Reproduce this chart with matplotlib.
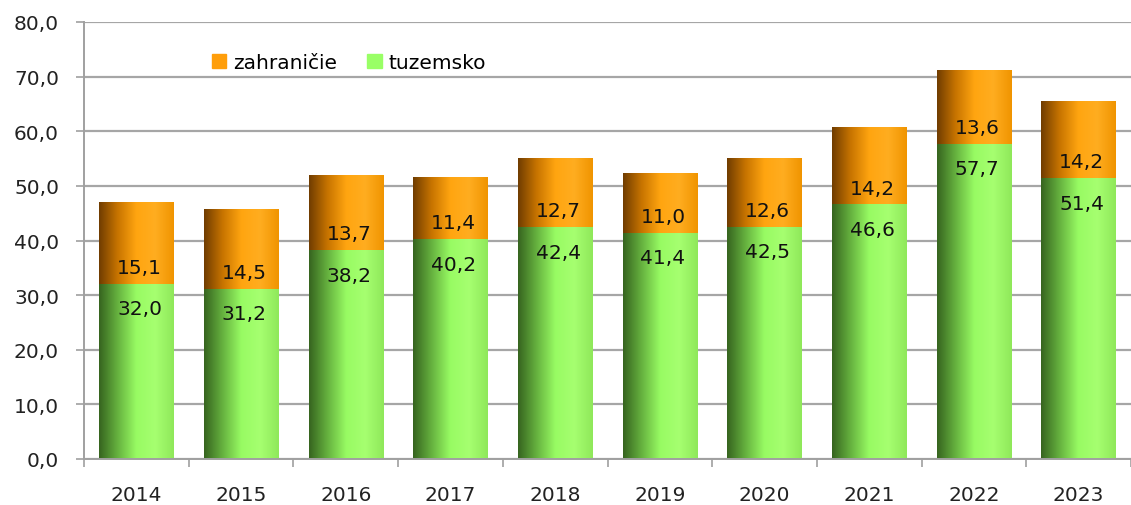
import numpy as np
import matplotlib
matplotlib.use('Agg')
import matplotlib.pyplot as plt
from matplotlib.colors import LinearSegmentedColormap
from matplotlib.patches import Patch

# data
years = ['2014', '2015', '2016', '2017', '2018', '2019', '2020', '2021', '2022', '2023']
tuzemsko = [32.0, 31.2, 38.2, 40.2, 42.4, 41.4, 42.5, 46.6, 57.7, 51.4]
zahranicie = [15.1, 14.5, 13.7, 11.4, 12.7, 11.0, 12.6, 14.2, 13.6, 14.2]

plt.rcParams['font.family'] = ['DejaVu Sans']
FS = 14.5

green_cm = LinearSegmentedColormap.from_list('g', ['#36641f', '#66b23f', '#98fb63', '#a6ff70', '#8fe85a'])
orange_cm = LinearSegmentedColormap.from_list('o', ['#703c00', '#c87400', '#ffa510', '#ffad20', '#f09400'])

def fmt(v):
    return ('%.1f' % v).replace('.', ',')

def shade(ax, bars, cmap):
    grad = np.linspace(0, 1, 256).reshape(1, -1)
    for b in bars:
        x0, y0 = b.get_x(), b.get_y()
        w, h = b.get_width(), b.get_height()
        im = ax.imshow(grad, cmap=cmap, aspect='auto', extent=(x0, x0 + w, y0, y0 + h),
                       interpolation='bilinear', zorder=2)
        im.set_clip_path(b)

fig = plt.figure(figsize=(11.31, 5.06), dpi=100)
ax = fig.add_axes([84 / 1131, 46 / 506, 1 - 84 / 1131, 437 / 506])

x = np.arange(len(years))
w = 0.71
b1 = ax.bar(x, tuzemsko, w, color='none', edgecolor='none', zorder=2)
b2 = ax.bar(x, zahranicie, w, bottom=tuzemsko, color='none', edgecolor='none', zorder=2)
shade(ax, b1, green_cm)
shade(ax, b2, orange_cm)

for i in range(len(years)):
    ax.annotate(fmt(tuzemsko[i]), (x[i] + 0.03, tuzemsko[i]), xytext=(0, -11), textcoords='offset points',
                ha='center', va='top', fontsize=FS, color='#111111', zorder=4)
    ax.annotate(fmt(zahranicie[i]), (x[i] + 0.03, tuzemsko[i]), xytext=(0, 5), textcoords='offset points',
                ha='center', va='bottom', fontsize=FS, color='#111111', zorder=4)

ax.set_xlim(-0.5, 9.4)
ax.set_ylim(0, 80)
ax.set_yticks(np.arange(0, 81, 10))
ax.set_yticklabels([fmt(v) for v in np.arange(0, 81, 10)], fontsize=FS, color='#222222')
ax.set_xticks(x)
ax.set_xticklabels(years, fontsize=FS, color='#222222')
ax.set_xticks(np.arange(-0.5, 10, 1), minor=True)
ax.tick_params(axis='x', which='major', length=0, pad=19)
ax.tick_params(axis='x', which='minor', length=6, color='#a0a0a0', width=1.2)
ax.tick_params(axis='y', length=6, color='#a0a0a0', width=1.2, pad=12)
ax.yaxis.grid(True, color='#a6a6a6', linewidth=1.6, zorder=0)
ax.set_axisbelow(True)
for s in ['top', 'right']:
    ax.spines[s].set_visible(False)
for s in ['left', 'bottom']:
    ax.spines[s].set_color('#a0a0a0')
    ax.spines[s].set_linewidth(1.4)

handles = [Patch(color='#ff9e0a', label='zahraničie'), Patch(color='#99ff66', label='tuzemsko')]
ax.legend(handles=handles, loc='upper left', bbox_to_anchor=(0.105, 0.97), ncol=2, frameon=False,
          fontsize=FS, handlelength=0.7, handleheight=0.7, handletextpad=0.35, columnspacing=1.5)

fig.savefig('out.png', dpi=100)
